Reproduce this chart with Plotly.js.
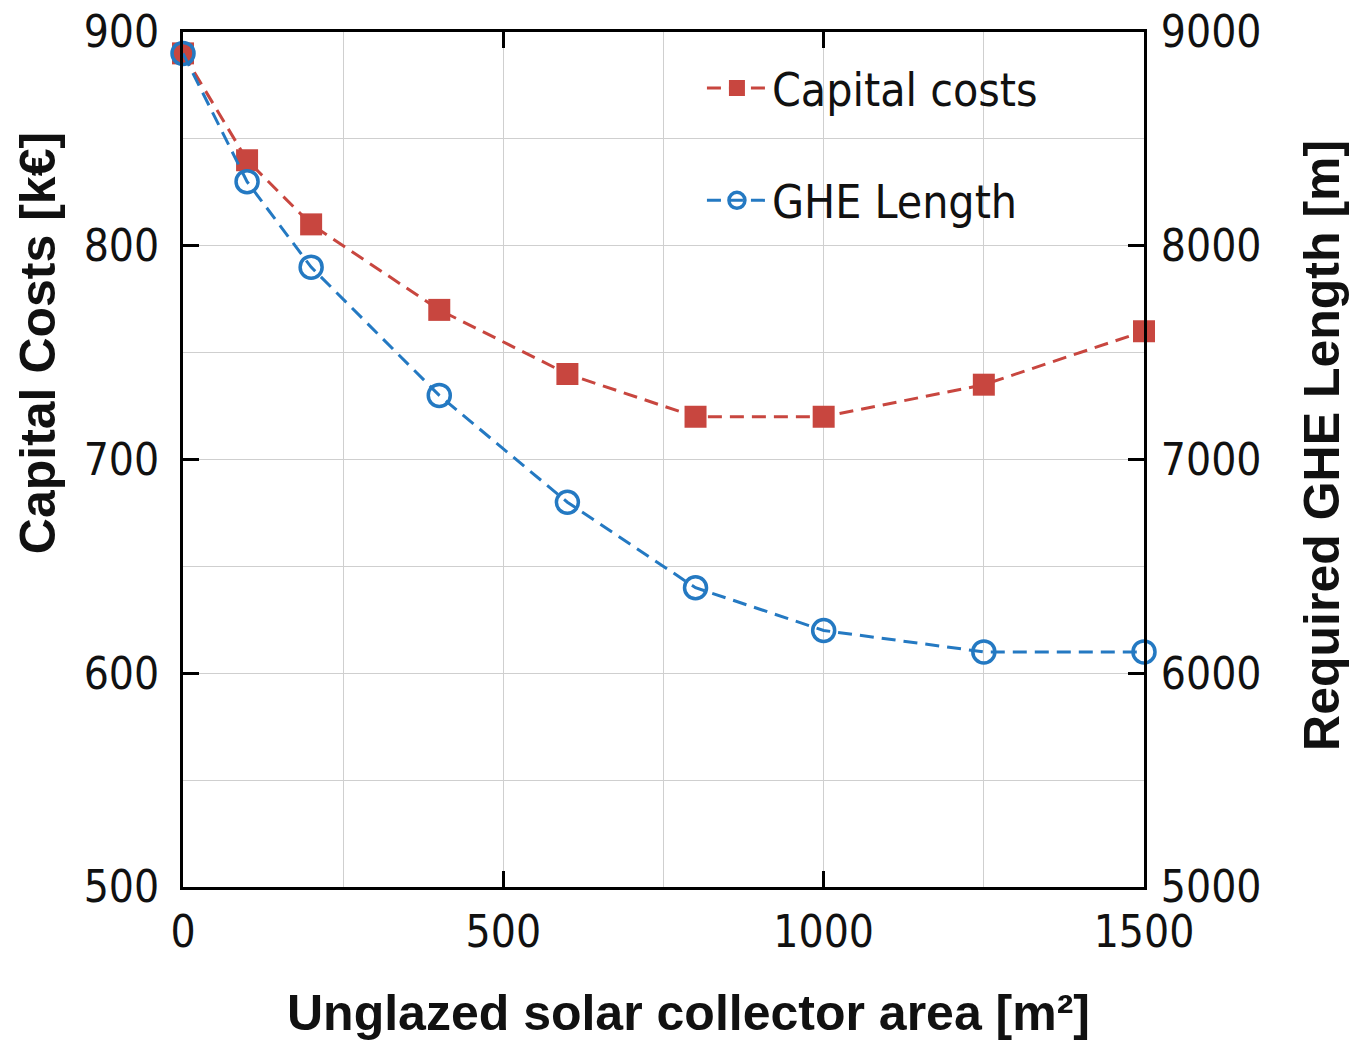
<!DOCTYPE html>
<html>
<head>
<meta charset="utf-8">
<script src="https://cdn.plot.ly/plotly-3.0.1.min.js"></script>
<style>html,body{margin:0;padding:0;background:#fff;}#chart{width:1349px;height:1045px;}</style>
</head>
<body>
<div id="chart"></div>
<script>
const collectorArea = [0, 100, 200, 400, 600, 800, 1000, 1250, 1500];
const capitalCosts = [890, 840, 810, 770, 740, 720, 720, 735, 760];
const gheLength = [8900, 8300, 7900, 7300, 6800, 6400, 6200, 6100, 6100];
const seriesNames = ['Capital costs', 'GHE Length'];
const xTitle = 'Unglazed solar collector area [m²]';
const yTitle = 'Capital Costs [k€]';
const y2Title = 'Required GHE Length [m]';

const RED = '#c8463f';
const BLUE = '#2479c2';
const tickFont = {family: '"Liberation Sans Narrow", "DejaVu Sans Condensed", Arial, sans-serif', size: 44, color: '#111'};
const titleFont = {family: '"Liberation Sans", Arial, sans-serif', size: 50, color: '#111', weight: 'bold'};
const legendFont = {family: '"Liberation Sans Narrow", "DejaVu Sans Condensed", Arial, sans-serif', size: 46, color: '#111'};

const traces = [
  {
    x: collectorArea, y: capitalCosts, name: seriesNames[0], type: 'scatter', mode: 'lines+markers',
    line: {color: RED, width: 3, dash: '14px,8px'},
    marker: {symbol: 'square', size: 22, color: RED},
    cliponaxis: false, legend: 'legend'
  },
  {
    x: collectorArea, y: gheLength, name: seriesNames[1], type: 'scatter', mode: 'lines+markers', yaxis: 'y2',
    line: {color: BLUE, width: 3, dash: '14px,8px'},
    marker: {symbol: 'circle-open', size: 22, color: BLUE, line: {width: 3.5, color: BLUE}},
    cliponaxis: false, legend: 'legend2'
  }
];

const gridColor = '#cfcfcf';
const layout = {
  width: 1349, height: 1045,
  margin: {l: 183, r: 205, t: 32, b: 158},
  paper_bgcolor: '#fff', plot_bgcolor: '#fff',
  showlegend: true,
  xaxis: {
    range: [0, 1500], dtick: 500, tick0: 0,
    showgrid: true, gridcolor: gridColor, gridwidth: 1,
    minor: {dtick: 250, showgrid: true, gridcolor: gridColor, gridwidth: 1, ticks: ''},
    ticks: 'inside', ticklen: 16, tickwidth: 3, tickcolor: '#000',
    showline: true, linecolor: '#000', linewidth: 3, mirror: 'ticks',
    tickfont: tickFont, zeroline: false, ticklabelstandoff: 4
  },
  yaxis: {
    range: [500, 900], dtick: 100, tick0: 500,
    showgrid: true, gridcolor: gridColor, gridwidth: 1,
    minor: {dtick: 50, showgrid: true, gridcolor: gridColor, gridwidth: 1, ticks: ''},
    ticks: 'inside', ticklen: 16, tickwidth: 3, tickcolor: '#000',
    showline: true, linecolor: '#000', linewidth: 3,
    tickfont: tickFont, zeroline: false, ticklabelstandoff: 12
  },
  yaxis2: {
    range: [5000, 9000], dtick: 1000, tick0: 5000, overlaying: 'y', side: 'right',
    showgrid: false, ticks: 'inside', ticklen: 16, tickwidth: 3, tickcolor: '#000',
    showline: true, linecolor: '#000', linewidth: 3,
    tickfont: tickFont, zeroline: false, ticklabelstandoff: 5
  },
  legend: {
    x: 0.54, y: 0.9345, xanchor: 'left', yanchor: 'middle',
    bgcolor: 'rgba(0,0,0,0)', font: legendFont, itemwidth: 60
  },
  legend2: {
    x: 0.54, y: 0.803, xanchor: 'left', yanchor: 'middle',
    bgcolor: 'rgba(0,0,0,0)', font: legendFont, itemwidth: 60
  },
  annotations: [
    {text: xTitle, xref: 'paper', yref: 'paper', x: 0.5255, y: -0.1475, showarrow: false, font: titleFont, xanchor: 'center', yanchor: 'middle'},
    {text: yTitle, xref: 'paper', yref: 'paper', x: -0.1509, y: 0.636, showarrow: false, font: titleFont, textangle: -90, xanchor: 'center', yanchor: 'middle'},
    {text: y2Title, xref: 'paper', yref: 'paper', x: 1.1852, y: 0.517, showarrow: false, font: titleFont, textangle: -90, xanchor: 'center', yanchor: 'middle'}
  ]
};

Plotly.newPlot('chart', traces, layout, {displayModeBar: false, responsive: false});
</script>
</body>
</html>
